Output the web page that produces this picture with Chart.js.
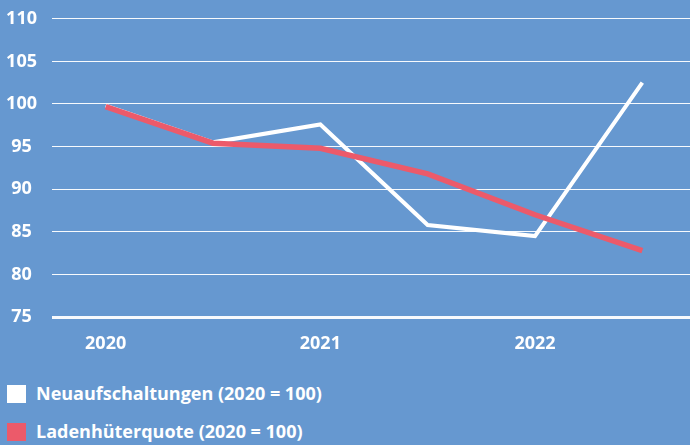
<!DOCTYPE html>
<html>
<head>
<meta charset="utf-8">
<script src="https://cdn.jsdelivr.net/npm/chart.js@4"></script>
<style>
  body { margin: 0; background: #6698d0; }
  #wrap { position: relative; width: 690px; height: 445px; background: #6698d0; overflow: hidden; }
  #box { position: absolute; left: 0; top: -7px; width: 696px; height: 377px; }
  .legend { position: absolute; left: 7px; font: bold 18px "Open Sans", sans-serif; color: #fff; }
  .legend span { display: inline-block; width: 19px; height: 18px; vertical-align: -3px; margin-right: 10px; }
</style>
</head>
<body>
<div id="wrap">
  <div id="box"><canvas id="grafico"></canvas></div>
  <div class="legend" style="top:381px"><span style="background:#ffffff"></span>Neuaufschaltungen (2020 = 100)</div>
  <div class="legend" style="top:419px"><span style="background:#ec5a6a"></span>Ladenhüterquote (2020 = 100)</div>
</div>
<script>
// Halbjahreswerte, nur die Jahre bekommen eine Beschriftung
var labels = ['2020', '', '2021', '', '2022', ''];
var neuaufschaltungen = [99.8, 95.5, 97.6, 85.8, 84.5, 102.5];
var ladenhueterquote = [99.7, 95.4, 94.8, 91.8, 87.0, 82.8];

var fonte = { family: '"Open Sans", sans-serif', size: 18, weight: 'bold' };

var ctx = document.getElementById('grafico').getContext('2d');

var grafico = new Chart(ctx, {
    type: 'line',
    data: {
        labels: labels,
        datasets: [{
            label: 'Neuaufschaltungen (2020 = 100)',
            data: neuaufschaltungen,
            borderColor: '#ffffff',
            borderWidth: 4,
            pointRadius: 0,
            tension: 0,
            order: 1
        }, {
            label: 'Ladenhüterquote (2020 = 100)',
            data: ladenhueterquote,
            borderColor: '#ec5a6a',
            borderWidth: 5.5,
            pointRadius: 0,
            tension: 0,
            order: 0
        }]
    },
    options: {
        responsive: true,
        maintainAspectRatio: false,
        animation: false,
        layout: { padding: 0 },
        plugins: {
            legend: { display: false },
            tooltip: { enabled: false }
        },
        scales: {
            x: {
                offset: true,
                grid: { display: false },
                border: { display: false },
                ticks: { color: '#ffffff', font: fonte, padding: 8, autoSkip: false, maxRotation: 0 },
                afterFit: function (scale) { scale.height = 53; }
            },
            y: {
                min: 75,
                max: 110,
                border: { display: false },
                grid: {
                    color: 'rgba(255,255,255,0.95)',
                    lineWidth: function (c) { return c.tick && c.tick.value === 75 ? 3 : 1; },
                    drawTicks: false
                },
                ticks: { stepSize: 5, color: '#ffffff', font: fonte, padding: 15, crossAlign: 'center' },
                afterFit: function (scale) { scale.width = 52; }
            }
        }
    }
});
</script>
</body>
</html>
